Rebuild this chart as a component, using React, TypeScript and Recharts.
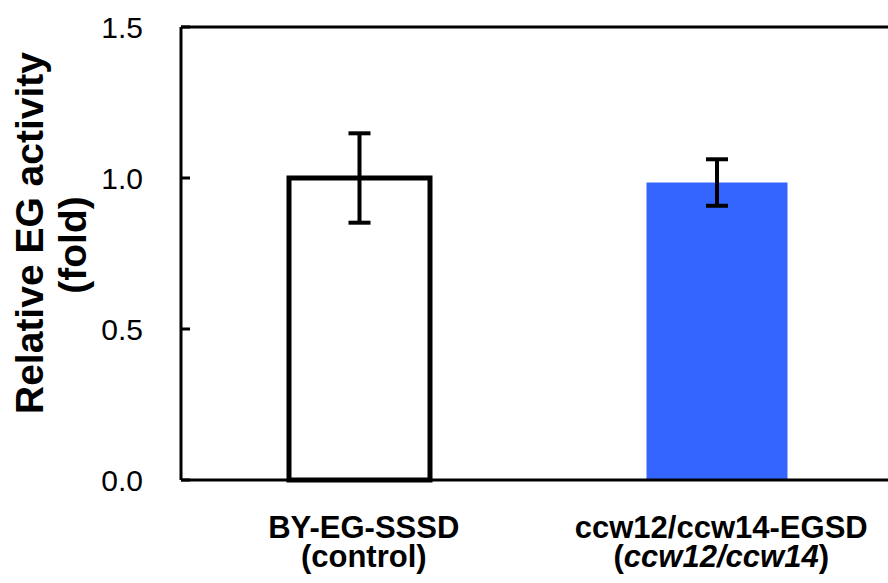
import React from 'react';
import { BarChart, Bar, XAxis, YAxis, Cell, ErrorBar, ReferenceLine } from 'recharts';

// ---------------- DATA ----------------
const categories = ['BY-EG-SSSD', 'ccw12/ccw14-EGSD'];
const subLabels = ['(control)', '(ccw12/ccw14)'];
const values = [1.0, 0.985];
const errors = [0.148, 0.077];
const barColors = ['#ffffff', '#3565FF'];
const yTicks = [0, 0.5, 1.0, 1.5];

const data = categories.map((name, i) => ({
  name,
  value: values[i],
  err: errors[i],
}));

const FONT = '"Liberation Sans", Arial, sans-serif';

// ---------------- TICKS ----------------
const YTick = ({ x, y, payload }: any) => (
  <g>
    <line x1={x} x2={x + 9} y1={y} y2={y} stroke="#000" strokeWidth={3} />
    <text x={x - 38} y={y} dy="0.355em" textAnchor="end" fontSize={30} fontFamily={FONT} fill="#000">
      {Number(payload.value).toFixed(1)}
    </text>
  </g>
);

const XTick = ({ x, y, payload, index }: any) => {
  const sub = subLabels[index] ?? '';
  const inner = sub.replace(/[()]/g, '');
  const italic = index === 1;
  const cx = x + 4;
  return (
    <g fontSize={31} fontWeight="bold" fontFamily={FONT} fill="#000">
      <text x={cx} y={y + 56} textAnchor="middle">
        {payload.value}
      </text>
      <text x={cx} y={y + 85} textAnchor="middle">
        (<tspan fontStyle={italic ? 'italic' : 'normal'}>{inner}</tspan>)
      </text>
    </g>
  );
};

const YLabel = () => (
  <g fontSize={39} fontWeight="bold" fontFamily={FONT} fill="#000">
    <text transform="translate(43,233) rotate(-90)" textAnchor="middle">
      Relative EG activity
    </text>
    <text transform="translate(86,245) rotate(-90)" textAnchor="middle">
      (fold)
    </text>
  </g>
);

// ---------------- COMPONENT ----------------
export default function App() {
  return (
    <div style={{ position: 'fixed', left: 0, top: 0, width: 888, height: 583, overflow: 'hidden', background: '#fff' }}>
      <BarChart width={900} height={583} data={data} margin={{ top: 27, right: 4, left: 0, bottom: 0 }}>
        <XAxis
          dataKey="name"
          axisLine={{ stroke: '#000', strokeWidth: 3 }}
          tickLine={false}
          tick={<XTick />}
          interval={0}
          height={103}
          tickSize={0}
        />
        <YAxis
          domain={[0, 1.5]}
          ticks={yTicks}
          width={181}
          axisLine={{ stroke: '#000', strokeWidth: 3 }}
          tickLine={false}
          tickSize={0}
          tickMargin={0}
          tick={<YTick />}
          label={{ content: <YLabel /> }}
        />
        <ReferenceLine y={1.5} stroke="#000" strokeWidth={3} />
        <Bar dataKey="value" barSize={141} isAnimationActive={false}>
          {data.map((_, i) => (
            <Cell key={i} fill={barColors[i]} stroke={i === 0 ? '#000' : 'none'} strokeWidth={i === 0 ? 5 : 0} />
          ))}
          <ErrorBar dataKey="err" width={11} stroke="#000" strokeWidth={4} direction="y" isAnimationActive={false} />
        </Bar>
      </BarChart>
    </div>
  );
}
